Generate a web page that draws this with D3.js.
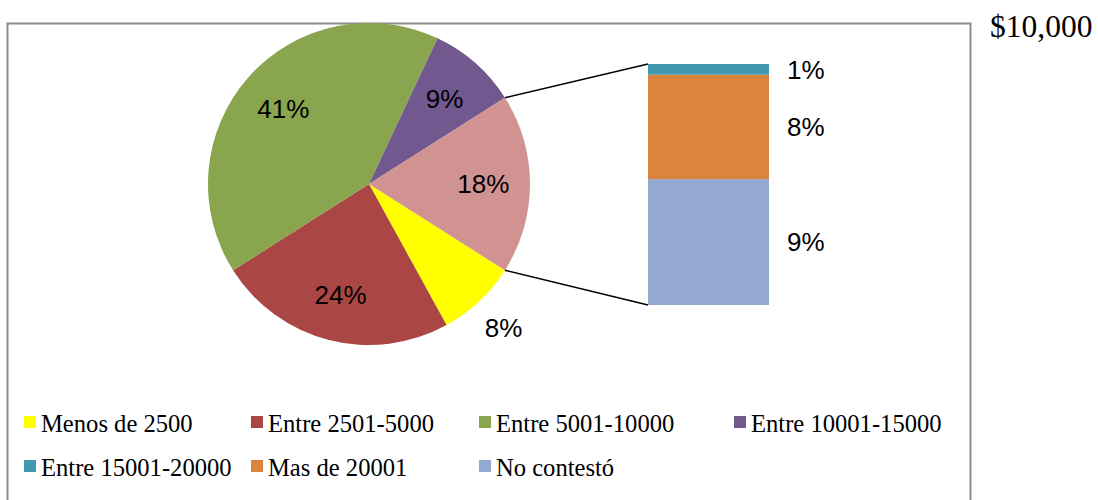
<!DOCTYPE html>
<html>
<head>
<meta charset="utf-8">
<script src="https://cdn.jsdelivr.net/npm/d3@7"></script>
<style>
  html, body { margin: 0; padding: 0; background: #fff; }
  svg { display: block; }
</style>
</head>
<body>
<svg id="chart" width="1098" height="500"></svg>
<script>
// ---- data ----
const pieCategories = ["Menos de 2500", "Entre 2501-5000", "Entre 5001-10000", "Entre 10001-15000", "Otros"];
const pieValues = [8, 24, 41, 9, 18];
const barCategories = ["No contestó", "Mas de 20001", "Entre 15001-20000"]; // bottom to top
const barValues = [9.4, 7.8, 0.8];
const barLabels = ["9%", "8%", "1%"];
const pieLabels = ["8%", "24%", "41%", "9%", "18%"];
const legendLabels = ["Menos de 2500", "Entre 2501-5000", "Entre 5001-10000", "Entre 10001-15000",
                      "Entre 15001-20000", "Mas de 20001", "No contestó"];
const cornerText = "$10,000";

// ---- styles ----
const pieColors = ["#FFFF00", "#AA4643", "#89A54E", "#71588F", "#D19392"];
const barColors = { "No contestó": "#93A9CF", "Mas de 20001": "#DB843D", "Entre 15001-20000": "#4198AF" };
const legendColors = ["#FFFF00", "#AA4643", "#89A54E", "#71588F", "#4198AF", "#DB843D", "#93A9CF"];

const svg = d3.select("#chart");

// frame
svg.append("rect")
  .attr("x", 7.5).attr("y", 23.5)
  .attr("width", 963).attr("height", 520)
  .attr("fill", "#fff").attr("stroke", "#8c8c8c").attr("stroke-width", 2);

// corner text
svg.append("text")
  .attr("x", 990).attr("y", 37)
  .attr("font-family", "Liberation Serif, Times New Roman, serif")
  .attr("font-size", 31.5)
  .attr("fill", "#000")
  .text(cornerText);

// ---- pie ----
const cx = 369, cy = 184, r = 161;
const start = 122.4 * Math.PI / 180;
const pie = d3.pie().sort(null).startAngle(start).endAngle(start + 2 * Math.PI);
const arcs = pie(pieValues);
const arc = d3.arc().innerRadius(0).outerRadius(r);
const gPie = svg.append("g").attr("transform", `translate(${cx},${cy})`);
gPie.selectAll("path").data(arcs).enter().append("path")
  .attr("d", arc)
  .attr("fill", (d, i) => pieColors[i]);

const inArc = d3.arc().innerRadius(r * 0.71).outerRadius(r * 0.71);
const outArc = d3.arc().innerRadius(r * 1.22).outerRadius(r * 1.22);
gPie.selectAll("text").data(arcs).enter().append("text")
  .attr("transform", d => {
    const c = (d.value < 9 ? outArc : inArc).centroid(d);
    return `translate(${c[0]},${c[1]})`;
  })
  .attr("text-anchor", "middle")
  .attr("dy", "0.36em")
  .attr("font-family", "Liberation Sans, Arial, sans-serif")
  .attr("font-size", 26)
  .attr("fill", "#000")
  .text((d, i) => pieLabels[i]);

// ---- bar ----
const total = d3.sum(barValues);
const y = d3.scaleLinear().domain([0, total]).range([305, 64]);
const x = d3.scaleBand().domain(["bar"]).range([648, 769]).padding(0);
let acc = 0;
const stacked = barValues.map((v, i) => {
  const s = { key: barCategories[i], y0: acc, y1: acc + v, label: barLabels[i] };
  acc += v;
  return s;
});
const gBar = svg.append("g");
gBar.selectAll("rect").data(stacked).enter().append("rect")
  .attr("x", x("bar"))
  .attr("width", x.bandwidth())
  .attr("y", d => y(d.y1))
  .attr("height", d => y(d.y0) - y(d.y1))
  .attr("fill", d => barColors[d.key]);
gBar.selectAll("text").data(stacked).enter().append("text")
  .attr("x", 787)
  .attr("y", d => y((d.y0 + d.y1) / 2))
  .attr("dy", "0.36em")
  .attr("font-family", "Liberation Sans, Arial, sans-serif")
  .attr("font-size", 26)
  .attr("fill", "#000")
  .text(d => d.label);

// connector lines
const other = arcs[4];
const pTop = [cx + r * Math.sin(other.startAngle), cy - r * Math.cos(other.startAngle)];
const pBot = [cx + r * Math.sin(other.endAngle), cy - r * Math.cos(other.endAngle)];
svg.append("line")
  .attr("x1", pTop[0]).attr("y1", pTop[1])
  .attr("x2", x("bar")).attr("y2", y(total))
  .attr("stroke", "#000").attr("stroke-width", 1.5);
svg.append("line")
  .attr("x1", pBot[0]).attr("y1", pBot[1])
  .attr("x2", x("bar")).attr("y2", y(0))
  .attr("stroke", "#000").attr("stroke-width", 1.5);

// ---- legend ----
const colX = [24, 251, 479, 734];
const rowY = [416, 460];
const gLeg = svg.append("g");
legendLabels.forEach((lab, i) => {
  const col = i < 4 ? i : i - 4;
  const row = i < 4 ? 0 : 1;
  const g = gLeg.append("g").attr("transform", `translate(${colX[col]},${rowY[row]})`);
  g.append("rect").attr("x", 0).attr("y", 0).attr("width", 12).attr("height", 12)
    .attr("fill", legendColors[i]);
  g.append("text")
    .attr("x", 17).attr("y", 15.5)
    .attr("font-family", "Liberation Serif, Times New Roman, serif")
    .attr("font-size", 24.6)
    .attr("fill", "#000")
    .text(lab);
});
</script>
</body>
</html>
